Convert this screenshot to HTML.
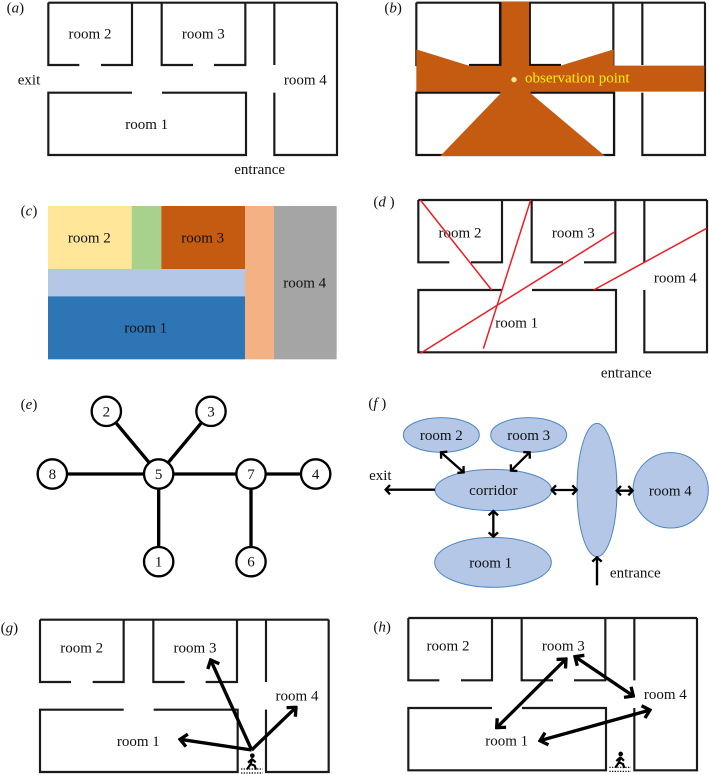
<!DOCTYPE html>
<html><head><meta charset="utf-8"><style>
html,body{margin:0;padding:0;background:#fff}
svg{display:block;position:absolute;left:0;top:0;filter:blur(.25px)}
text{font-family:"Liberation Serif",serif;font-size:45px;fill:#111}
.m{text-anchor:middle}
.i{font-style:italic}
.w{fill:none;stroke:#1a1a1a;stroke-width:6.5}
.r{stroke:#f01c24;stroke-width:4.5;fill:none}
.e{fill:none;stroke:#000;stroke-width:10}
.c{fill:#fff;stroke:#000;stroke-width:7}
.f{fill:#B4C7E7;stroke:#4f86c0;stroke-width:3}
.a6{fill:none;stroke:#000;stroke-width:7}
.a8{fill:none;stroke:#000;stroke-width:10}
</style></head><body>
<svg width="709" height="775" viewBox="0 0 2127 2325" xmlns="http://www.w3.org/2000/svg">
<defs>
<marker id="s" viewBox="-30 -20 36 40" refX="0" refY="0" markerWidth="36" markerHeight="40" markerUnits="userSpaceOnUse" orient="auto-start-reverse"><path d="M-13,-14 L0,0 L-13,14" fill="none" stroke="#000" stroke-width="7"/></marker>
<marker id="b" viewBox="-30 -26 36 52" refX="0" refY="0" markerWidth="36" markerHeight="52" markerUnits="userSpaceOnUse" orient="auto-start-reverse"><path d="M-21,-19 L0,0 L-21,19" fill="none" stroke="#000" stroke-width="10"/></marker>
<g id="plan"><path class="w" d="M0,0H866M0,0V187H93M158,187H251V0M340,0V187H434M497,187H591V0M251,270H0V457H593V270H341M678,0V187M678,270V457H866V0"/></g>
<g id="person"><circle cx="2" cy="-22" r="7" fill="#000"/><path d="M2,-14 L-3,3 M-3,3 L-14,19 M-3,3 L9,8 L13,20 M1,-12 L-11,-1 M1,-12 L12,-2" fill="none" stroke="#000" stroke-width="6.5"/><path d="M-32,18H33M-32,30H33" fill="none" stroke="#000" stroke-width="3.5" stroke-dasharray="4 4"/></g>
</defs>

<!-- a -->
<use href="#plan" x="145" y="8"/>
<text x="20" y="38"><tspan>(</tspan><tspan class="i">a</tspan><tspan>)</tspan></text>
<text class="m" x="270" y="115">room 2</text><text class="m" x="610" y="115">room 3</text>
<text class="m" x="916" y="254">room 4</text><text class="m" x="440" y="387">room 1</text>
<text class="m" x="87" y="254">exit</text><text class="m" x="779" y="522">entrance</text>

<!-- b -->
<g transform="translate(1065,0)">
<use href="#plan" x="184" y="8"/>
<polygon fill="#C55A11" points="438,5 523,5 523,197 617,197 776,148 776,197 1048,197 1048,275 527,275 527,280 750,468 256,468 437,280 437,275 184,275 184,148 335,195 342,197 437,197"/>
<path d="M342,195H437V8M525,8V195H617M184,278H437M527,278H778V465H750M256,465H184V278" fill="none" stroke="#111" stroke-width="5"/>
<circle cx="477" cy="239" r="8" fill="#FFE699"/>
<text x="510" y="247" style="fill:#FFF200">observation point</text>
<text x="88" y="38">(<tspan class="i">b</tspan>)</text>
</g>

<!-- c -->
<g transform="translate(0,570)">
<rect x="144" y="48" width="251" height="189" fill="#FFE699"/>
<rect x="395" y="48" width="89" height="189" fill="#A9D18E"/>
<rect x="484" y="48" width="251" height="189" fill="#C55A11"/>
<rect x="144" y="237" width="591" height="82" fill="#B4C7E7"/>
<rect x="144" y="319" width="591" height="189" fill="#2E75B6"/>
<rect x="735" y="48" width="87" height="460" fill="#F4B183"/>
<rect x="822" y="48" width="188" height="460" fill="#A5A5A5"/>
<text class="m" x="268" y="157">room 2</text><text class="m" x="608" y="157">room 3</text>
<text class="m" x="914" y="292">room 4</text><text class="m" x="437" y="427">room 1</text>
<text x="62" y="76">(<tspan class="i">c</tspan>)</text>
</g>

<!-- d -->
<g transform="translate(1065,570)">
<use href="#plan" x="190" y="30"/>
<text class="m" x="315" y="142">room 2</text><text class="m" x="655" y="142">room 3</text>
<text class="m" x="961" y="277">room 4</text><text class="m" x="485" y="413">room 1</text>
<text class="m" x="814" y="562">entrance</text>
<text x="55" y="50">(<tspan class="i">d</tspan> )</text>
<path class="r" d="M196,30L410,300M527,30L385,476M196,490L780,125M716,300L1055,115"/>
</g>

<!-- e -->
<g transform="translate(0,1155)">
<path class="e" d="M319,79L476,267M633,79L476,267M157,267H947M476,267V530M753,267V530"/>
<circle class="c" cx="319" cy="79" r="44"/><circle class="c" cx="633" cy="79" r="44"/>
<circle class="c" cx="157" cy="267" r="44"/><circle class="c" cx="476" cy="267" r="44"/>
<circle class="c" cx="753" cy="267" r="44"/><circle class="c" cx="947" cy="267" r="44"/>
<circle class="c" cx="476" cy="530" r="44"/><circle class="c" cx="753" cy="530" r="44"/>
<text class="m" x="319" y="94">2</text><text class="m" x="633" y="94">3</text>
<text class="m" x="157" y="282">8</text><text class="m" x="476" y="282">5</text>
<text class="m" x="753" y="282">7</text><text class="m" x="947" y="282">4</text>
<text class="m" x="476" y="545">1</text><text class="m" x="753" y="545">6</text>
<text x="62" y="72">(<tspan class="i">e</tspan>)</text>
</g>

<!-- f -->
<g transform="translate(1065,1200)">
<ellipse class="f" cx="259" cy="105" rx="114" ry="52"/><ellipse class="f" cx="521" cy="105" rx="114" ry="52"/>
<ellipse class="f" cx="415" cy="270" rx="175" ry="62"/><ellipse class="f" cx="414" cy="487" rx="175" ry="75"/>
<ellipse class="f" cx="726" cy="270" rx="60" ry="200"/><circle class="f" cx="947" cy="271" r="113"/>
<path class="a6" marker-start="url(#s)" marker-end="url(#s)" d="M258,157L326,217"/>
<path class="a6" marker-start="url(#s)" marker-end="url(#s)" d="M524,157L468,212"/>
<path class="a6" marker-end="url(#s)" d="M240,269H92"/>
<path class="a6" marker-start="url(#s)" marker-end="url(#s)" d="M590,270H665"/>
<path class="a6" marker-start="url(#s)" marker-end="url(#s)" d="M785,272H833"/>
<path class="a6" marker-start="url(#s)" marker-end="url(#s)" d="M415,333V410"/>
<path class="a6" marker-end="url(#s)" d="M726,556V472"/>
<text class="m" x="259" y="120">room 2</text><text class="m" x="521" y="120">room 3</text>
<text class="m" x="415" y="285">corridor</text><text class="m" x="407" y="502">room 1</text>
<text class="m" x="946" y="286">room 4</text><text class="m" x="76" y="240">exit</text>
<text class="m" x="841" y="532">entrance</text>
<text x="40" y="24">(<tspan class="i">f</tspan> )</text>
</g>

<!-- g -->
<g transform="translate(0,1800)">
<use href="#plan" x="120" y="59"/>
<path class="a8" marker-end="url(#b)" d="M755,450L632,180"/>
<path class="a8" marker-end="url(#b)" d="M755,450L888,322"/>
<path class="a8" marker-end="url(#b)" d="M755,450L540,418"/>
<use href="#person" x="755" y="489"/>
<text class="m" x="245" y="158">room 2</text><text class="m" x="585" y="158">room 3</text>
<text class="m" x="891" y="302">room 4</text><text class="m" x="415" y="438">room 1</text>
<text x="2" y="97">(<tspan class="i">g</tspan>)</text>
</g>

<!-- h -->
<g transform="translate(1065,1800)">
<use href="#plan" x="160" y="54"/>
<path class="a8" marker-start="url(#b)" marker-end="url(#b)" d="M425,383L633,177"/>
<path class="a8" marker-start="url(#b)" marker-end="url(#b)" d="M660,170L835,288"/>
<path class="a8" marker-start="url(#b)" marker-end="url(#b)" d="M555,422L885,330"/>
<use href="#person" x="795" y="484"/>
<text class="m" x="279" y="151">room 2</text><text class="m" x="625" y="151">room 3</text>
<text class="m" x="931" y="297">room 4</text><text class="m" x="455" y="437">room 1</text>
<text x="55" y="95">(<tspan class="i">h</tspan>)</text>
</g>
</svg>
</body></html>
